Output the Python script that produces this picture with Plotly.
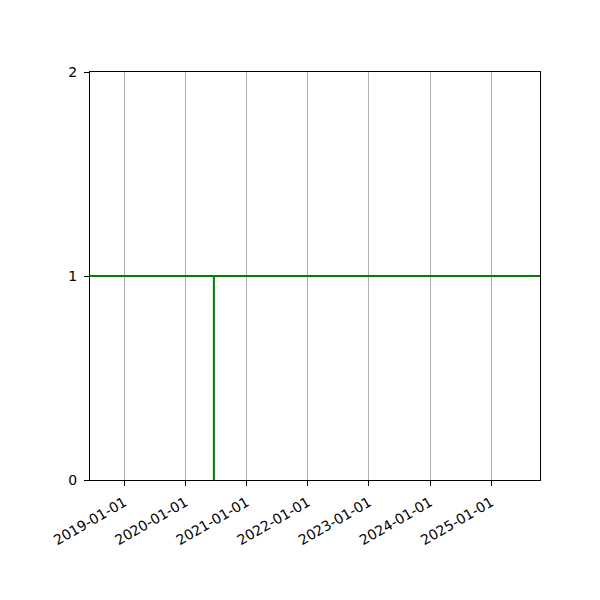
import plotly.graph_objects as go

# step-like signal: stays at 1, drops to 0 once in mid 2020
dates = ["2018-06-10", "2020-06-19", "2020-06-19", "2020-06-19", "2025-10-19"]
values = [1, 1, 0, 1, 1]

x_range = ["2018-06-10", "2025-10-19"]
y_ticks = [0, 1, 2]

fig = go.Figure()
fig.add_trace(go.Scatter(
    x=dates, y=values, mode="lines",
    line=dict(color="green", width=2),
    showlegend=False,
))

# page body has an 8px margin, so shift plot margins to compensate
fig.update_layout(
    width=600, height=600,
    margin=dict(l=82, r=68, t=64, b=128),
    paper_bgcolor="white", plot_bgcolor="white",
    font=dict(family="DejaVu Sans", size=14, color="black"),
)
fig.update_xaxes(
    type="date", range=x_range,
    tick0="2019-01-01", dtick="M12", tickformat="%Y-%m-%d",
    tickangle=-30, ticks="outside", ticklen=5, tickcolor="black",
    ticklabelstandoff=3,
    showgrid=True, gridcolor="#b0b0b0", gridwidth=1,
    showline=True, linecolor="black", linewidth=1, mirror=True,
    zeroline=False,
)
fig.update_yaxes(
    range=[0, 2], tickvals=y_ticks,
    ticks="outside", ticklen=5, tickcolor="black",
    ticklabelstandoff=4,
    showgrid=False, zeroline=False,
    showline=True, linecolor="black", linewidth=1, mirror=True,
)

fig.write_html("out.html")
